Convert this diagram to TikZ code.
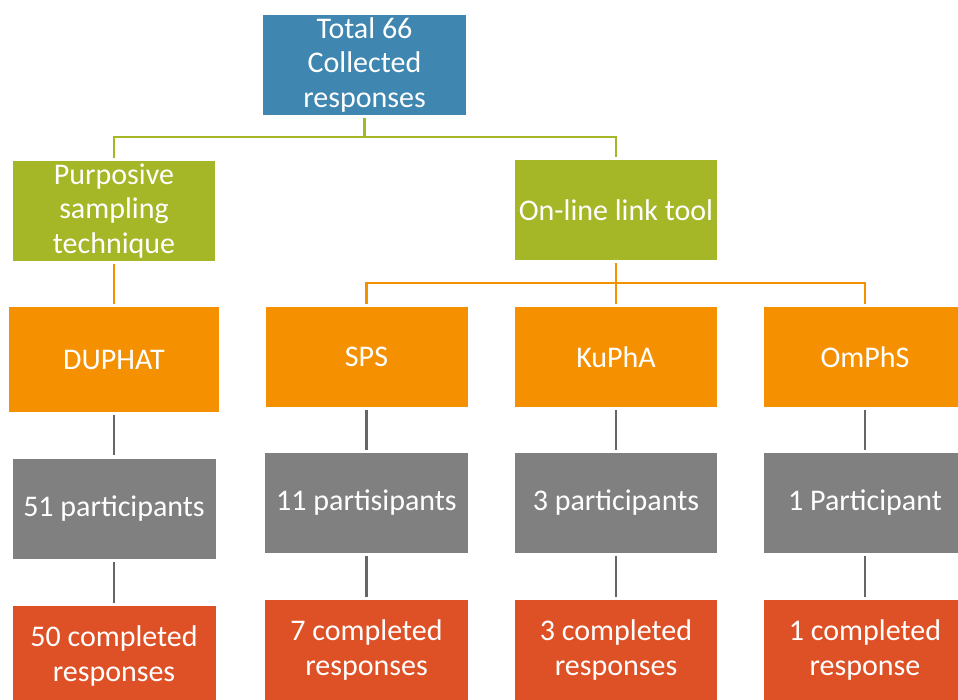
\documentclass[tikz,border=0pt]{standalone}
\usepackage{fontspec}
\setmainfont{Carlito}
\definecolor{cblue}{HTML}{3F86B0}
\definecolor{cgreen}{HTML}{A5B627}
\definecolor{corange}{HTML}{F59100}
\definecolor{cgray}{HTML}{808080}
\definecolor{cred}{HTML}{DE5126}
\definecolor{cline}{HTML}{666666}
\begin{document}
\begin{tikzpicture}[x=1pt,y=-1pt,
  box/.style={rectangle, minimum width=202pt, minimum height=100pt, inner sep=1pt,
    align=center, text=white, font=\fontsize{30}{34.5}\selectfont},
  bluebox/.style={box, fill=cblue, minimum width=203pt},
  greenbox/.style={box, fill=cgreen},
  orangebox/.style={box, fill=corange},
  graybox/.style={box, fill=cgray},
  redbox/.style={box, fill=cred},
  gline/.style={draw=cgreen, line width=2.2pt},
  oline/.style={draw=corange, line width=2.2pt},
  kline/.style={draw=cline, line width=2.2pt, shorten >=3pt, shorten <=3pt}]
\useasboundingbox (0,0) rectangle (958,700);
\clip (0,0) rectangle (958,700);
\node[bluebox] (top) at (364.5,65) {Total 66\\Collected\\responses};
\node[greenbox] (purp) at (114,211) {Purposive\\sampling\\technique};
\node[greenbox] (online) at (616,210) {On-line link tool};
\node[orangebox, minimum width=210pt, minimum height=105pt] (duphat) at (114,359.5) {DUPHAT};
\node[orangebox] (sps) at (366.5,357) {SPS};
\node[orangebox] (kupha) at (616,357) {KuPhA};
\node[orangebox] (omphs) at (865,357) {OmPhS};
\node[graybox, minimum width=203pt] (p51) at (114,508.5) {51 participants};
\node[graybox, minimum width=203pt] (p11) at (366.5,503) {11 partisipants};
\node[graybox] (p3) at (616,503) {3 participants};
\node[graybox] (p1) at (865,503) {1 Participant};
\node[redbox, minimum width=203pt] (c50) at (114,656) {50 completed\\responses};
\node[redbox, minimum width=203pt] (c7) at (366.5,650) {7 completed\\responses};
\node[redbox] (c3) at (616,650) {3 completed\\responses};
\node[redbox] (c1) at (865,650) {1 completed\\response};
\coordinate (g) at (364.5,137);
\coordinate (o) at (616,283);
\draw[gline, shorten <=3pt] (top.south) -- (top.south |- g);
\draw[gline, shorten >=3pt] (top.south |- g) -| (purp.north);
\draw[gline, shorten >=3pt] (top.south |- g) -| (online.north);
\draw[oline, shorten <=3pt, shorten >=3pt] (purp.south) -- (duphat.north);
\draw[oline, shorten <=3pt] (online.south) -- (online.south |- o);
\draw[oline, shorten >=3pt] (online.south |- o) -| (sps.north);
\draw[oline, shorten >=3pt] (online.south |- o) -- (kupha.north);
\draw[oline, shorten >=3pt] (online.south |- o) -| (omphs.north);
\draw[kline] (duphat.south) -- (p51.north);
\draw[kline] (sps.south) -- (p11.north);
\draw[kline] (kupha.south) -- (p3.north);
\draw[kline] (omphs.south) -- (p1.north);
\draw[kline] (p51.south) -- (c50.north);
\draw[kline] (p11.south) -- (c7.north);
\draw[kline] (p3.south) -- (c3.north);
\draw[kline] (p1.south) -- (c1.north);
\end{tikzpicture}
\end{document}
